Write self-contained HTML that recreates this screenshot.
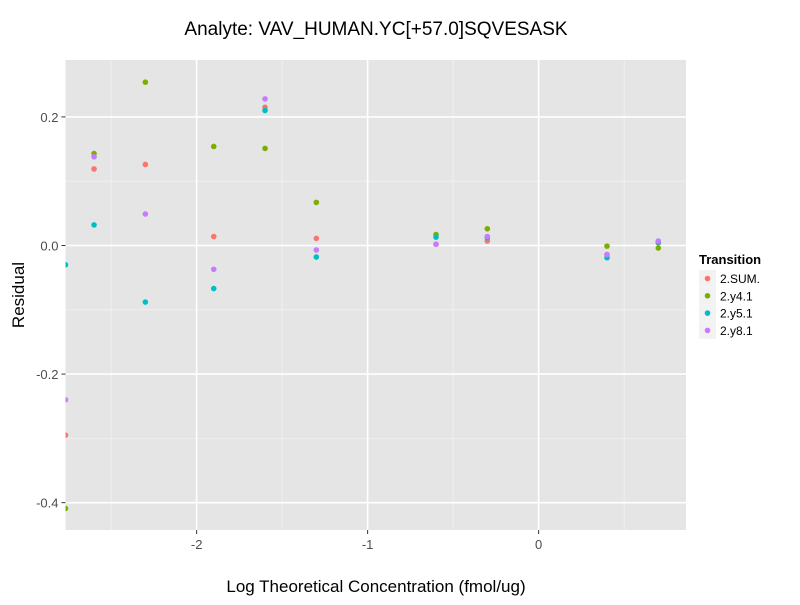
<!DOCTYPE html>
<html><head><meta charset="utf-8"><style>
body{margin:0;background:#fff;font-family:"Liberation Sans",sans-serif}
</style></head><body>
<svg id="chart" width="800" height="600" xmlns="http://www.w3.org/2000/svg" font-family="Liberation Sans, sans-serif">
<rect width="800" height="600" fill="#fff"/>
<text x="376" y="35" font-size="19" text-anchor="middle" fill="#000">Analyte: VAV_HUMAN.YC[+57.0]SQVESASK</text>
<rect x="65.5" y="60" width="620.5" height="470" fill="#e5e5e5"/>
<g id="grid"></g>
<g id="points"></g>
<g id="axes"></g>
<text x="376" y="592" font-size="17" text-anchor="middle">Log Theoretical Concentration (fmol/ug)</text>
<text transform="translate(24,295) rotate(-90)" font-size="17" text-anchor="middle">Residual</text>
<g id="legend"></g>
</svg>
<script>
const series = ["2.SUM.","2.y4.1","2.y5.1","2.y8.1"];
const colors = ["#F8766D","#7CAE00","#00BFC4","#C77CFF"];
const xVals = [-2.767,-2.6,-2.3,-1.9,-1.6,-1.3,-0.6,-0.3,0.4,0.7];
const sumVals = [-0.295,0.119,0.126,0.014,0.215,0.011,0.002,0.007,-0.014,0.004];
const y4Vals = [-0.409,0.143,0.254,0.154,0.151,0.067,0.017,0.026,-0.001,-0.004];
const y5Vals = [-0.030,0.032,-0.088,-0.067,0.210,-0.018,0.013,0.012,-0.019,0.005];
const y8Vals = [-0.240,0.138,0.049,-0.037,0.228,-0.007,0.002,0.014,-0.014,0.007];
const xTicks = [-2,-1,0];
const xMinor = [-2.5,-1.5,-0.5,0.5];
const yTicks = [0.2,0.0,-0.2,-0.4];
const yMinor = [0.1,-0.1,-0.3];
const yTickLabels = ["0.2","0.0","-0.2","-0.4"];
const NS="http://www.w3.org/2000/svg";
const X0=65.5,X1=686,Y0=60,Y1=530,xmin=-2.767,xmax=0.862,ymin=-0.4425,ymax=0.2885;
const sx=v=>X0+(v-xmin)/(xmax-xmin)*(X1-X0);
const sy=v=>Y1-(v-ymin)/(ymax-ymin)*(Y1-Y0);
function mk(tag,attrs,parent){const e=document.createElementNS(NS,tag);for(const k in attrs)e.setAttribute(k,attrs[k]);parent.appendChild(e);return e;}
const grid=document.getElementById('grid'),axes=document.getElementById('axes'),pts=document.getElementById('points'),leg=document.getElementById('legend');
xMinor.forEach(v=>{const l=mk('line',{x1:sx(v),x2:sx(v),y1:Y0,y2:Y1,stroke:'#f2f2f2','stroke-width':0.8},grid);});
yMinor.forEach(v=>{const l=mk('line',{x1:X0,x2:X1,y1:sy(v),y2:sy(v),stroke:'#f2f2f2','stroke-width':0.8},grid);});
xTicks.forEach(v=>{const l=mk('line',{x1:sx(v),x2:sx(v),y1:Y0,y2:Y1,stroke:'#fff','stroke-width':1.6},grid);
const t=mk('line',{x1:sx(v),x2:sx(v),y1:Y1,y2:Y1+4,stroke:'#333'},axes);
const tx=mk('text',{x:sx(v),y:Y1+19,'font-size':13,'text-anchor':'middle',fill:'#4d4d4d'},axes);tx.textContent=String(v);});
yTicks.forEach((v,i)=>{const l=mk('line',{x1:X0,x2:X1,y1:sy(v),y2:sy(v),stroke:'#fff','stroke-width':1.6},grid);
const t=mk('line',{x1:X0-4,x2:X0,y1:sy(v),y2:sy(v),stroke:'#333'},axes);
const tx=mk('text',{x:X0-7,y:sy(v)+5,'font-size':13,'text-anchor':'end',fill:'#4d4d4d'},axes);tx.textContent=yTickLabels[i];});
const all=[sumVals,y4Vals,y5Vals,y8Vals];
const clip=mk('clipPath',{id:'pc'},document.getElementById('chart'));mk('rect',{x:X0,y:Y0,width:X1-X0,height:Y1-Y0},clip);
pts.setAttribute('clip-path','url(#pc)');
all.forEach((vals,s)=>vals.forEach((v,i)=>{const c=mk('circle',{cx:sx(xVals[i]),cy:sy(v),r:2.8,fill:colors[s]},pts);}));
const lt=mk('text',{x:699,y:264,'font-size':13,'font-weight':'bold'},leg);lt.textContent='Transition';
series.forEach((s,i)=>{const y=270+i*17.3;const g=mk('g',{},leg);
mk('rect',{x:699,y:y,width:17,height:17,fill:'#f2f2f2'},g);mk('circle',{cx:707.5,cy:y+8.5,r:2.8,fill:colors[i]},g);
const t=mk('text',{x:720,y:y+13,'font-size':12},g);t.textContent=s;});
</script>
</body></html>
